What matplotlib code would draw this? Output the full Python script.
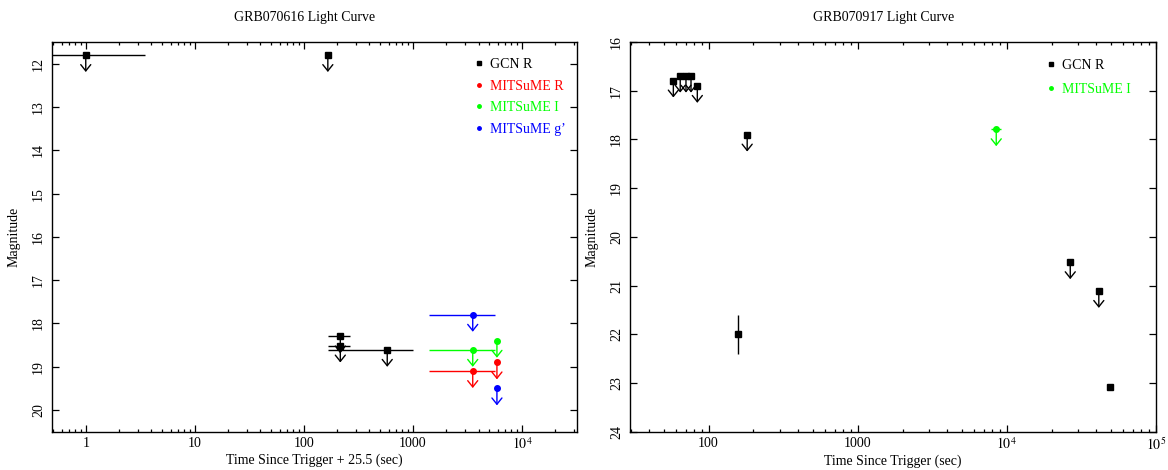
import matplotlib
matplotlib.use("Agg")
import matplotlib.pyplot as plt
from matplotlib.lines import Line2D
import numpy as np

plt.rcParams["font.family"] = ["Liberation Serif", "DejaVu Serif"]
plt.rcParams["mathtext.fontset"] = "stix"
plt.rcParams["font.size"] = 10

# ---------------- GRB070616 (time since trigger + 25.5 s) ----------------
g16_gcn_t = [1.0, 166, 216, 216, 582]
g16_gcn_mag = [11.80, 11.80, 18.30, 18.51, 18.61]
g16_gcn_tlo = [0.3, 166, 167, 167, 167]
g16_gcn_thi = [3.47, 166, 267, 267, 1000]
g16_gcn_ul = [True, True, True, True, True]

g16_mR_t = [3540, 5900]
g16_mR_mag = [19.10, 18.90]
g16_mR_tlo = [1400, 5900]
g16_mR_thi = [5710, 5900]

g16_mI_t = [3540, 5900]
g16_mI_mag = [18.61, 18.40]
g16_mI_tlo = [1400, 5900]
g16_mI_thi = [5710, 5900]

g16_mg_t = [3540, 5900]
g16_mg_mag = [17.80, 19.50]
g16_mg_tlo = [1400, 5900]
g16_mg_thi = [5710, 5900]

g16_xticks = [1, 10, 100, 1000, 1e4]
g16_xticklabels = ["1", "10", "100", "1000", r"$10^4$"]
g16_yticks = [12, 13, 14, 15, 16, 17, 18, 19, 20]

# ---------------- GRB070917 (time since trigger) ----------------
g17_gcn_t = [58.0, 64.5, 70.5, 76.2, 84.0, 181.5, 158, 26700, 41500, 49100]
g17_gcn_mag = [16.79, 16.69, 16.69, 16.69, 16.90, 17.90, 22.00, 20.52, 21.11, 23.09]
g17_gcn_magerr = [0, 0, 0, 0, 0, 0, 0.4, 0, 0, 0]
g17_gcn_ul = [True, True, True, True, True, True, False, True, True, False]

g17_mI_t = [8510]
g17_mI_mag = [17.79]
g17_mI_tlo = [7860]
g17_mI_thi = [9210]

g17_xticks = [100, 1000, 1e4, 1e5]
g17_xticklabels = ["100", "1000", r"$10^4$", r"$10^5$"]
g17_yticks = [16, 17, 18, 19, 20, 21, 22, 23, 24]

ARROW_PT = 12.2


def limit_arrows(ax, t, mag, flags, color):
    for ti, mi, f in zip(t, mag, flags):
        if not f:
            continue
        ax.annotate("", xy=(ti, mi), xycoords="data",
                    xytext=(0, -ARROW_PT), textcoords="offset points",
                    arrowprops=dict(arrowstyle="<-, head_length=0.45, head_width=0.36",
                                    color=color, lw=1.0, shrinkA=0, shrinkB=0))


def series(ax, t, mag, tlo, thi, flags, color, marker, ms):
    t = np.asarray(t, float)
    xerr = [t - np.asarray(tlo, float), np.asarray(thi, float) - t]
    ax.errorbar(t, mag, xerr=xerr, fmt=marker, color=color, ms=ms,
                elinewidth=1.0, capsize=0, zorder=3)
    limit_arrows(ax, t, mag, flags, color)


def style_axes(ax):
    ax.set_xscale("log")
    ax.tick_params(which="both", direction="in", top=True, right=True,
                   labelsize=10, width=0.9)
    ax.tick_params(which="major", length=5)
    ax.tick_params(which="minor", length=2.5)
    ax.tick_params(axis="y", which="minor", left=False, right=False)
    ax.tick_params(axis="y", labelrotation=90, pad=5)
    for s in ax.spines.values():
        s.set_linewidth(1.0)


fig = plt.figure(figsize=(11.68, 4.70), dpi=100)
ax1 = fig.add_axes([0.0445, 0.0815, 0.4495, 0.829])
ax2 = fig.add_axes([0.5394, 0.0815, 0.4501, 0.829])

# ---- left panel ----
series(ax1, g16_gcn_t, g16_gcn_mag, g16_gcn_tlo, g16_gcn_thi, g16_gcn_ul, "black", "s", 4)
series(ax1, g16_mR_t, g16_mR_mag, g16_mR_tlo, g16_mR_thi, [True, True], "#ff0000", "o", 4)
series(ax1, g16_mI_t, g16_mI_mag, g16_mI_tlo, g16_mI_thi, [True, True], "#00ff00", "o", 4)
series(ax1, g16_mg_t, g16_mg_mag, g16_mg_tlo, g16_mg_thi, [True, True], "#0000ff", "o", 4)
ax1.set_xlim(0.49, 3.2e4)
ax1.set_ylim(20.5, 11.5)
style_axes(ax1)
ax1.set_xticks(g16_xticks)
ax1.set_xticklabels(g16_xticklabels)
ax1.set_yticks(g16_yticks)
ax1.set_yticklabels([str(v) for v in g16_yticks], rotation=90, va="center")
ax1.set_xlabel("Time Since Trigger + 25.5 (sec)", labelpad=1)
ax1.set_ylabel("Magnitude", labelpad=8)
ax1.set_title("GRB070616 Light Curve", pad=15, fontsize=10, x=0.481)

h1 = [Line2D([], [], ls="none", marker="s", ms=3.5, color="black"),
      Line2D([], [], ls="none", marker="o", ms=2.5, color="#ff0000"),
      Line2D([], [], ls="none", marker="o", ms=2.5, color="#00ff00"),
      Line2D([], [], ls="none", marker="o", ms=2.5, color="#0000ff")]
ax1.legend(h1, ["GCN R", "MITSuME R", "MITSuME I", "MITSuME g\u2019"],
           loc="upper left", bbox_to_anchor=(0.803, 0.959), frameon=False,
           borderpad=0, borderaxespad=0, handlelength=0.8, handletextpad=0.4,
           labelspacing=0.62, labelcolor="linecolor", fontsize=10)

# ---- right panel ----
t17 = np.asarray(g17_gcn_t, float)
ax2.errorbar(t17, g17_gcn_mag, yerr=g17_gcn_magerr, fmt="s", color="black", ms=4,
             elinewidth=1.0, capsize=0, zorder=3)
limit_arrows(ax2, t17, g17_gcn_mag, g17_gcn_ul, "black")
series(ax2, g17_mI_t, g17_mI_mag, g17_mI_tlo, g17_mI_thi, [True], "#00ff00", "o", 4)
ax2.set_xlim(29.7, 1e5)
ax2.set_ylim(24, 16)
style_axes(ax2)
ax2.set_xticks(g17_xticks)
ax2.set_xticklabels(g17_xticklabels)
ax2.set_yticks(g17_yticks)
ax2.set_yticklabels([str(v) for v in g17_yticks], rotation=90, va="center")
ax2.set_xlabel("Time Since Trigger (sec)", labelpad=1)
ax2.set_ylabel("Magnitude", labelpad=8)
ax2.set_title("GRB070917 Light Curve", pad=15, fontsize=10, x=0.482)

h2 = [Line2D([], [], ls="none", marker="s", ms=3.5, color="black"),
      Line2D([], [], ls="none", marker="o", ms=2.5, color="#00ff00")]
ax2.legend(h2, ["GCN R", "MITSuME I"],
           loc="upper left", bbox_to_anchor=(0.79, 0.956), frameon=False,
           borderpad=0, borderaxespad=0, handlelength=0.8, handletextpad=0.4,
           labelspacing=0.75, labelcolor="linecolor", fontsize=10)

fig.savefig("out.png", dpi=100)
